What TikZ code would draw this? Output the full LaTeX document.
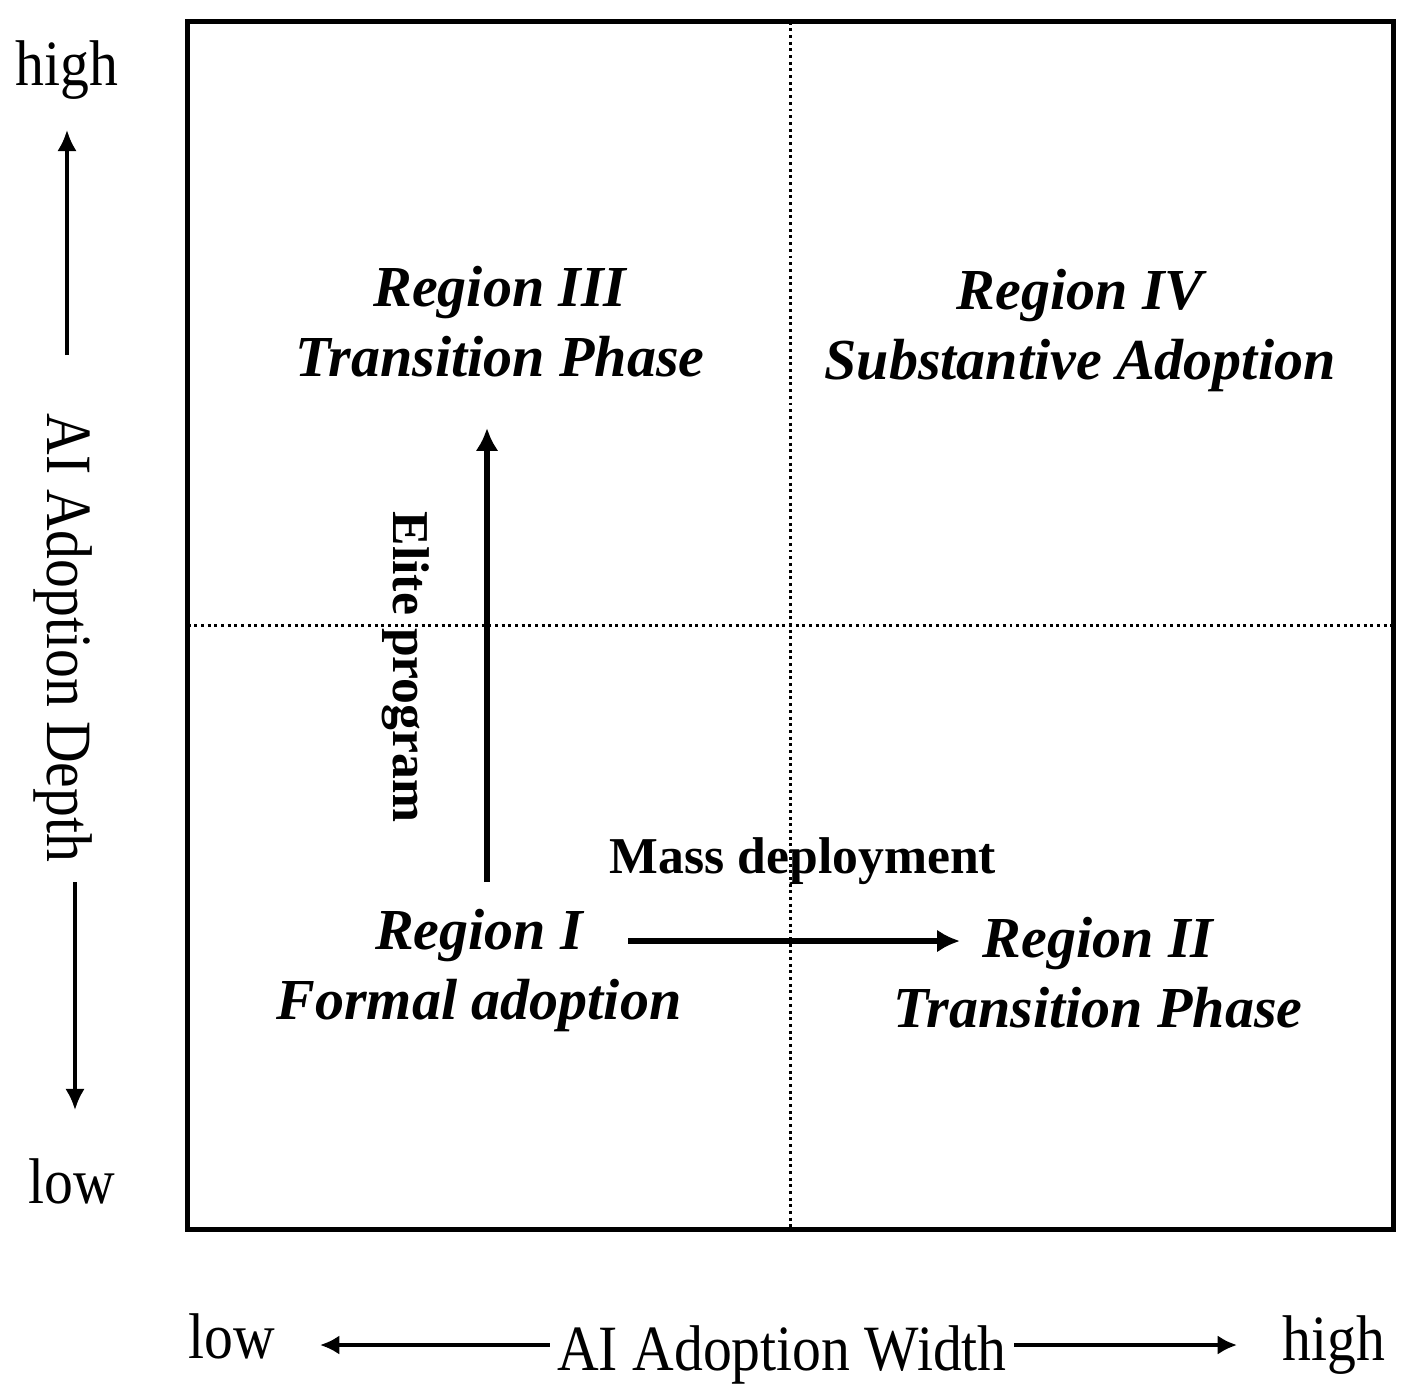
\documentclass[tikz,border=0pt]{standalone}
\usepackage{fontspec}
\setmainfont{Liberation Serif}
\usetikzlibrary{arrows.meta}
\begin{document}
\begin{tikzpicture}[x=0.01cm,y=-0.01cm,
  axislabel/.style={inner sep=0pt, font=\fontsize{16.4}{20}\selectfont},
  region/.style={inner sep=0pt, align=center, font=\fontsize{16.5}{19.9}\selectfont\bfseries\itshape},
  pathlabel/.style={inner sep=0pt, font=\fontsize{14.7}{18}\selectfont\bfseries},
  frame/.style={draw, line width=1.4pt, inner sep=0pt, outer sep=0pt, minimum width=12.05cm, minimum height=12.07cm},
  divider/.style={line width=0.85pt, dash pattern=on 0.85pt off 1.05pt},
  axisarrow/.style={line width=0.95pt, -{Latex[length=6pt,width=5.5pt]}},
  wararrow/.style={line width=1.1pt, -{Latex[length=5.5pt,width=5.5pt]}},
  bigarrow/.style={line width=1.7pt, -{Latex[length=6.5pt,width=6.5pt]}},
]
\useasboundingbox (0,0) rectangle (1410,1397);

% frame and dividers
\node[frame] (box) at (790.5,625.5) {};
\draw[divider] (box.north) -- (box.south);
\draw[divider] (box.west) -- (box.east);

% vertical axis
\node[axislabel, anchor=base] (yhigh) at (67,86) {\scalebox{1}[1.12]{high}};
\node[axislabel, anchor=base] (ylow) at (72,1203) {\scalebox{1}[1.12]{low}};
\node[axislabel, anchor=base, rotate=-90] (ydepth) at (47,638) {\scalebox{1}[1.12]{AI Adoption Depth}};
\coordinate (ua) at (67,355);
\coordinate (ub) at (67,130);
\coordinate (da) at (75,882);
\coordinate (db) at (75,1110);
\draw[axisarrow] (ua) -- (ub);
\draw[axisarrow] (da) -- (db);

% horizontal axis
\node[axislabel, anchor=base] (xlow) at (232,1358) {\scalebox{1}[1.12]{low}};
\node[axislabel, anchor=base] (xhigh) at (1334,1360) {\scalebox{1}[1.12]{high}};
\node[axislabel, anchor=base, inner xsep=2pt] (xwidth) at (782,1370) {\scalebox{1}[1.12]{AI Adoption Width}};
\coordinate (lb) at (320,1345);
\coordinate (rb) at (1237,1345);
\draw[wararrow] (xwidth.west |- lb) -- (lb);
\draw[wararrow] (xwidth.east |- rb) -- (rb);

% regions (base anchor = baseline of the last line)
\node[region, anchor=base] (r3) at (500,376) {Region III\\Transition Phase};
\node[region, anchor=base] (r4) at (1080,379) {Region IV\\Substantive Adoption};
\node[region, anchor=base] (r1) at (479,1019) {Region I\\Formal adoption};
\node[region, anchor=base] (r2) at (1098,1027) {Region II\\Transition Phase};

% development paths
\coordinate (ea) at (487,882);
\coordinate (eb) at (487,428);
\draw[bigarrow] (ea) -- (eb);
\node[pathlabel, anchor=base, rotate=-90] (elite) at (393,667) {Elite program};

\coordinate (ma) at (628,941);
\coordinate (mb) at (960,941);
\draw[bigarrow] (ma) -- (mb);
\node[pathlabel, anchor=base] (mass) at (803,873) {Mass deployment};
\end{tikzpicture}
\end{document}
